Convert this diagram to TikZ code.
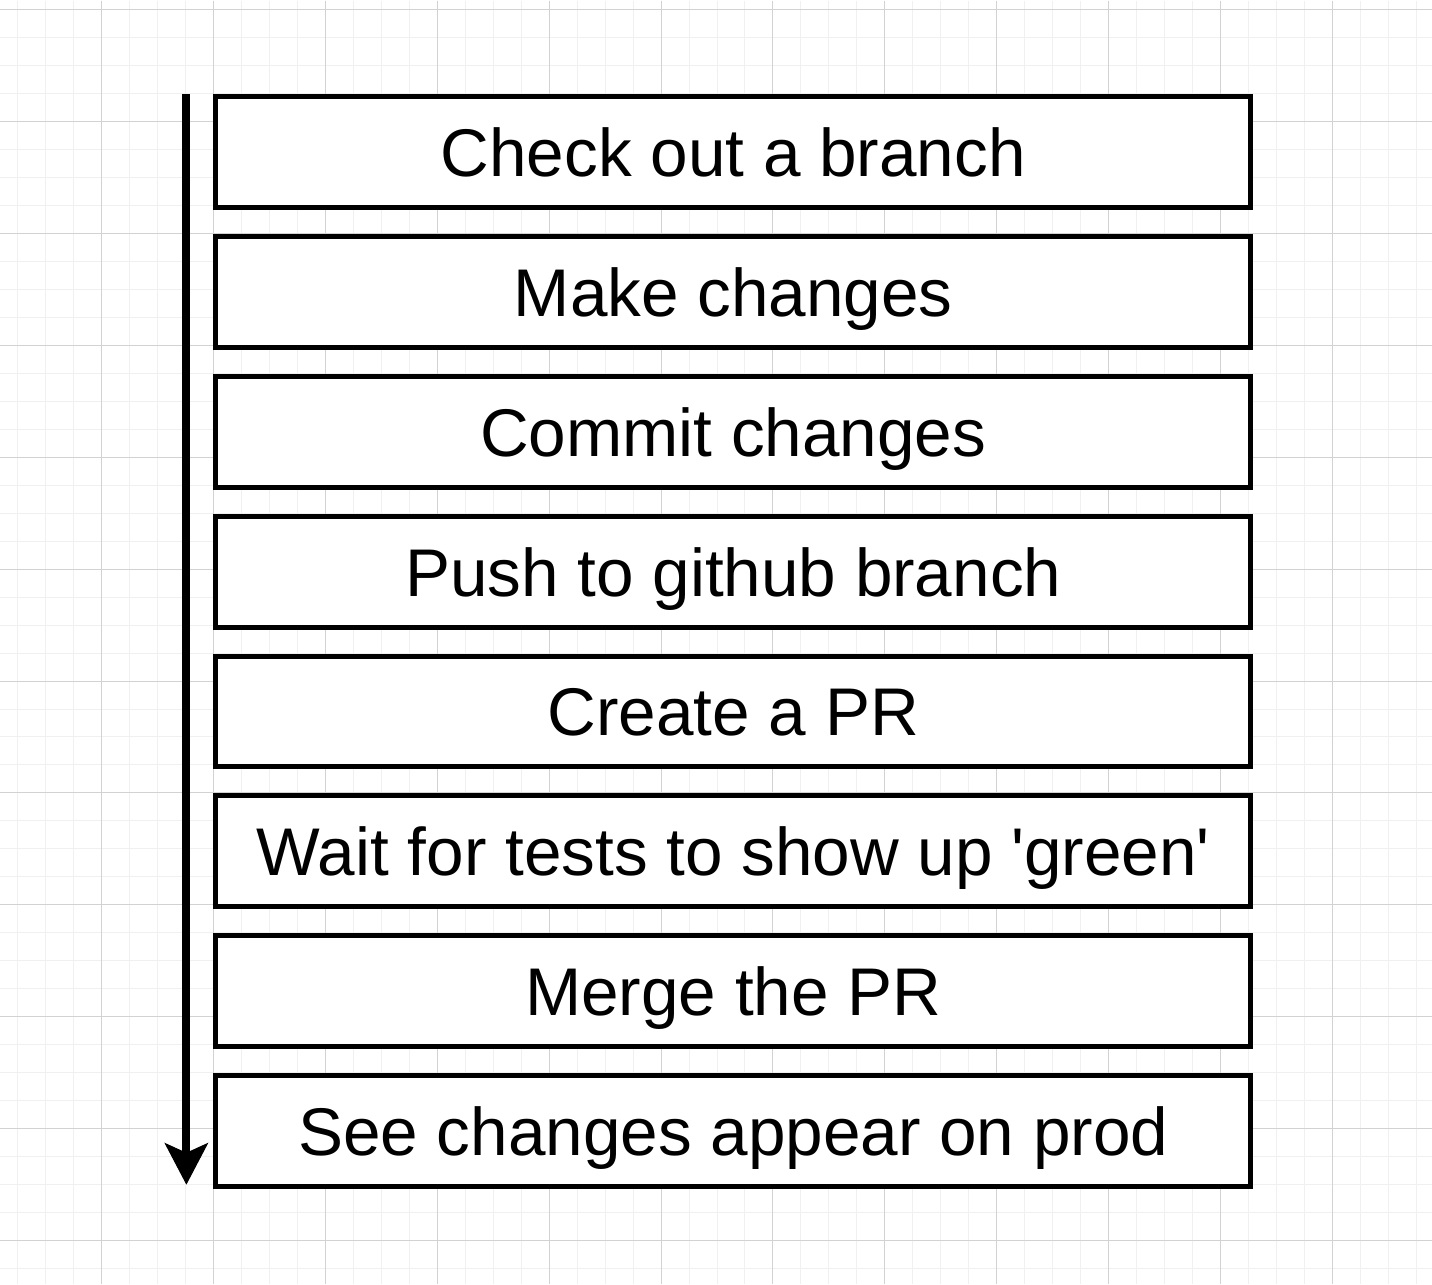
\documentclass[tikz,border=0pt]{standalone}
\usepackage{fontspec}
\setmainfont{Liberation Sans}[Ligatures=TeXOff]
\usepackage{tikz}
\usetikzlibrary{positioning,arrows.meta}
\definecolor{gridminor}{RGB}{240,240,240}
\definecolor{gridmajor}{RGB}{210,210,210}

\begin{document}
\begin{tikzpicture}[x=1pt, y=-1pt,
    stepbox/.style={draw, line width=5pt, fill=white, minimum width=1036pt, minimum height=111pt,
        inner sep=0pt, text height=49pt, text depth=0pt, font=\fontsize{67.5}{80}\selectfont}]
    % Background grid
    \fill[white] (0,0) rectangle (1432,1284);
    \foreach \k in {0,...,50} {
        \draw[gridminor, line width=1pt] (17+28*\k,0) -- (17+28*\k,1284);
    }
    \foreach \k in {0,...,45} {
        \draw[gridminor, line width=1pt] (0,9+28*\k) -- (1432,9+28*\k);
    }
    \foreach \k in {0,...,11} {
        \draw[gridmajor, line width=1pt] (101+112*\k,0) -- (101+112*\k,1284);
        \draw[gridmajor, line width=1pt] (0,9+112*\k) -- (1432,9+112*\k);
    }

    % Steps
    \node[stepbox] (s1) at (733.25,151.5) {Check out a branch};
    \node[stepbox, below=24pt of s1] (s2) {Make changes};
    \node[stepbox, below=24pt of s2] (s3) {Commit changes};
    \node[stepbox, below=24pt of s3] (s4) {Push to github branch};
    \node[stepbox, below=24pt of s4] (s5) {Create a PR};
    \node[stepbox, below=24pt of s5] (s6) {Wait for tests to show up 'green'};
    \node[stepbox, below=24pt of s6] (s7) {Merge the PR};
    \node[stepbox, below=24pt of s7] (s8) {See changes appear on prod};

    % Time arrow
    \coordinate (flowtop) at (186,94);
    \coordinate (flowend) at (186,1185);
    \draw[line width=8pt, -{Stealth[length=42pt, width=44pt, inset=10pt, line width=1pt]}] (flowtop) -- (flowend);
\end{tikzpicture}
\end{document}
